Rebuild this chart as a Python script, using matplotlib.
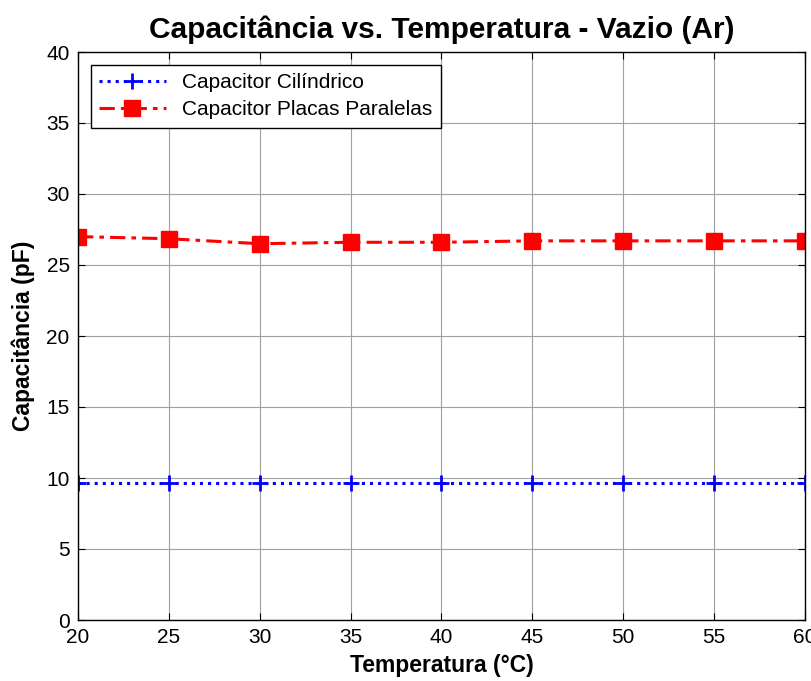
import numpy as np
import matplotlib
matplotlib.use("Agg")
import matplotlib.pyplot as plt

plt.rcParams['font.family'] = ['Liberation Sans', 'DejaVu Sans']

temperatura = [20, 25, 30, 35, 40, 45, 50, 55, 60]
cap_cilindrico = [9.65, 9.65, 9.65, 9.65, 9.65, 9.65, 9.65, 9.65, 9.65]
cap_placas = [27.0, 26.85, 26.5, 26.6, 26.6, 26.7, 26.7, 26.7, 26.7]

fig = plt.figure(figsize=(8.11, 6.81), dpi=100)
ax = fig.add_axes([78/811, 1 - 620/681, (805-78)/811, (620-52)/681])

ax.plot(temperatura, cap_cilindrico, color='b', linestyle=':', linewidth=2.2,
        marker='+', markersize=12, markeredgewidth=2, label='Capacitor Cilíndrico')
ax.plot(temperatura, cap_placas, color='r', linestyle=(0, (5, 2, 1.5, 2)), linewidth=2.2,
        marker='s', markersize=12, label='Capacitor Placas Paralelas')

ax.set_xlim(20, 60)
ax.set_ylim(0, 40)
ax.set_xticks(np.arange(20, 61, 5))
ax.set_yticks(np.arange(0, 41, 5))
ax.grid(True, color='#a0a0a0', linewidth=0.8)
ax.tick_params(direction='in', top=True, right=True, labelsize=15, length=5, pad=6)
for s in ax.spines.values():
    s.set_linewidth(1.0)

ax.set_title('Capacitância vs. Temperatura - Vazio (Ar)', fontsize=21.5, fontweight='bold', pad=10)
ax.set_xlabel('Temperatura (°C)', fontsize=16.5, fontweight='bold', labelpad=5)
ax.set_ylabel('Capacitância (pF)', fontsize=16.5, fontweight='bold', labelpad=8)

leg = ax.legend(loc='upper left', fontsize=15, fancybox=False, framealpha=1,
                edgecolor='black', borderaxespad=0.6, handlelength=3.2,
                borderpad=0.4, labelspacing=0.4)
leg.get_frame().set_linewidth(1.0)

fig.savefig('out.png', dpi=100)
